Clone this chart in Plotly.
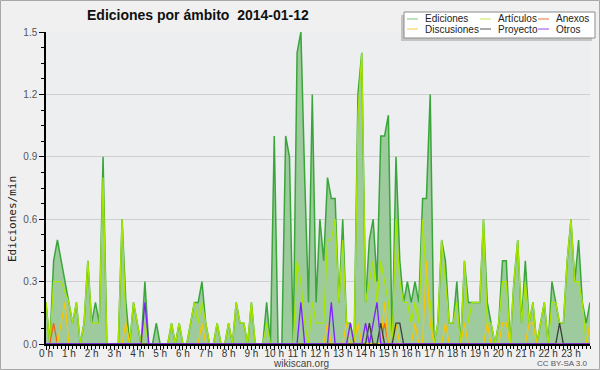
import plotly.graph_objects as go

# time of each 10-minute sample, in hours
times = [i / 6 for i in range(144)]

hour_ticks = list(range(24))
hour_labels = [f"{h} h" for h in hour_ticks]

ediciones = [
    0.2, 0, 0.4, 0.5, 0.4, 0.3, 0.2, 0.1, 0.2, 0, 0.1, 0.4,
    0.1, 0.2, 0.1, 0.9, 0, 0, 0, 0, 0.6, 0.2, 0, 0.2,
    0.1, 0, 0.3, 0, 0, 0.1, 0, 0, 0, 0.1, 0, 0.1,
    0, 0, 0.1, 0.2, 0.2, 0.3, 0.1, 0, 0, 0.1, 0, 0,
    0.1, 0, 0.2, 0.1, 0.1, 0, 0.2, 0, 0, 0, 0.2, 0,
    1.0, 0, 0, 1.0, 0.9, 0, 1.4, 1.5, 0.8, 0.2, 1.2, 0.2,
    0.6, 0.4, 0.8, 0.7, 0.7, 0.2, 0.6, 0.1, 0.1, 0, 1.2, 1.4,
    0.2, 0.5, 0.6, 0.3, 1.0, 1.0, 1.1, 0, 0.9, 0.4, 0.2, 0.3,
    0.2, 0.3, 0.2, 0.7, 0.7, 1.2, 0, 0.1, 0.5, 0.4, 0.1, 0.1,
    0.3, 0, 0.4, 0.2, 0.2, 0.2, 0.2, 0.6, 0.2, 0.1, 0, 0.1,
    0.4, 0.4, 0, 0.3, 0.5, 0.1, 0.4, 0.1, 0.2, 0, 0.1, 0.2,
    0, 0.3, 0.2, 0.1, 0.1, 0.4, 0.6, 0.3, 0.5, 0.2, 0.1, 0.2,
]

articulos = [
    0.2, 0, 0.3, 0.3, 0.3, 0.25, 0.2, 0.1, 0.2, 0, 0.1, 0.4,
    0.1, 0.1, 0.1, 0.8, 0, 0, 0, 0, 0.6, 0.1, 0, 0.2,
    0.1, 0, 0.1, 0, 0, 0, 0, 0, 0, 0.1, 0, 0.1,
    0, 0, 0.1, 0.2, 0.1, 0.2, 0.1, 0, 0, 0.1, 0, 0,
    0.1, 0, 0.2, 0.1, 0.1, 0, 0.2, 0, 0, 0, 0.1, 0,
    0, 0, 0, 0, 0, 0, 0.4, 0.3, 0.1, 0, 0.2, 0.1,
    0.1, 0.1, 0.5, 0.5, 0.6, 0.2, 0.5, 0.1, 0.1, 0, 1.1, 1.4,
    0.2, 0.3, 0.4, 0.2, 0.4, 0.3, 0.2, 0, 0.6, 0.3, 0.2, 0.2,
    0.1, 0.2, 0.1, 0.6, 0.3, 0.2, 0, 0.1, 0.5, 0.3, 0.1, 0.1,
    0.2, 0, 0.4, 0.1, 0.2, 0.2, 0.2, 0.6, 0.1, 0.1, 0, 0.1,
    0.3, 0.3, 0, 0.3, 0.5, 0.1, 0.3, 0.1, 0.2, 0, 0.1, 0.2,
    0, 0.2, 0.2, 0.1, 0.1, 0.4, 0.6, 0.3, 0.3, 0.2, 0, 0.1,
]

discusiones = [
    0, 0, 0, 0, 0.1, 0.2, 0, 0, 0, 0, 0, 0,
    0, 0, 0, 0, 0, 0, 0, 0, 0, 0.1, 0, 0,
    0, 0, 0, 0, 0, 0, 0, 0, 0, 0, 0, 0,
    0, 0, 0, 0, 0, 0.1, 0, 0, 0, 0, 0, 0,
    0, 0, 0, 0, 0, 0, 0, 0, 0, 0, 0, 0,
    0, 0, 0, 0, 0, 0, 0, 0, 0, 0, 0, 0,
    0, 0, 0.1, 0, 0, 0, 0, 0.1, 0, 0, 0.1, 0,
    0, 0, 0, 0, 0, 0.2, 0, 0, 0.1, 0, 0, 0,
    0, 0.1, 0, 0, 0.4, 0.1, 0, 0, 0, 0.1, 0, 0,
    0, 0, 0.1, 0, 0, 0, 0, 0, 0.1, 0, 0, 0,
    0.1, 0.1, 0, 0, 0, 0, 0, 0.1, 0.1, 0, 0, 0,
    0, 0, 0, 0, 0, 0, 0, 0, 0, 0, 0, 0.1,
]

anexos = [
    0, 0, 0.1, 0, 0, 0, 0, 0, 0, 0, 0, 0,
    0, 0, 0, 0, 0, 0, 0, 0, 0, 0, 0, 0,
    0, 0, 0, 0, 0, 0, 0, 0, 0, 0, 0, 0,
    0, 0, 0, 0, 0, 0, 0, 0, 0, 0, 0, 0,
    0, 0, 0, 0, 0, 0, 0, 0, 0, 0, 0, 0,
    0, 0, 0, 0, 0, 0, 0, 0, 0, 0, 0, 0,
    0, 0, 0, 0, 0, 0, 0, 0, 0, 0, 0, 0,
    0, 0, 0, 0, 0, 0.1, 0, 0, 0, 0, 0, 0,
    0, 0, 0, 0, 0, 0, 0, 0, 0, 0, 0, 0,
    0, 0, 0, 0, 0, 0, 0, 0, 0, 0, 0, 0,
    0, 0, 0, 0, 0, 0, 0, 0, 0, 0, 0, 0,
    0, 0, 0, 0, 0, 0, 0, 0, 0, 0, 0, 0,
]

proyecto = [
    0, 0, 0, 0, 0, 0, 0, 0, 0, 0, 0, 0,
    0, 0, 0, 0, 0, 0, 0, 0, 0, 0, 0, 0,
    0, 0, 0, 0, 0, 0, 0, 0, 0, 0, 0, 0,
    0, 0, 0, 0, 0, 0, 0, 0, 0, 0, 0, 0,
    0, 0, 0, 0, 0, 0, 0, 0, 0, 0, 0, 0,
    0, 0, 0, 0, 0, 0, 0, 0, 0, 0, 0, 0,
    0, 0, 0, 0, 0, 0, 0, 0, 0, 0, 0, 0,
    0, 0.1, 0, 0, 0.1, 0, 0, 0, 0.1, 0.1, 0, 0,
    0, 0, 0, 0, 0, 0, 0, 0, 0, 0, 0, 0,
    0, 0, 0, 0, 0, 0, 0, 0, 0, 0, 0, 0,
    0, 0, 0, 0, 0, 0, 0, 0, 0, 0, 0, 0,
    0, 0, 0, 0.1, 0, 0, 0, 0, 0, 0, 0, 0,
]

otros = [
    0, 0, 0, 0, 0, 0, 0, 0, 0, 0, 0, 0,
    0, 0, 0, 0, 0, 0, 0, 0, 0, 0, 0, 0,
    0, 0, 0.2, 0, 0, 0, 0, 0, 0, 0, 0, 0,
    0, 0, 0, 0, 0, 0, 0, 0, 0, 0, 0, 0,
    0, 0, 0, 0, 0, 0, 0, 0, 0, 0, 0, 0,
    0, 0, 0, 0, 0, 0, 0, 0.2, 0, 0, 0, 0,
    0, 0, 0, 0.2, 0, 0, 0, 0, 0.1, 0, 0, 0,
    0.1, 0, 0.1, 0.2, 0, 0, 0, 0, 0, 0, 0, 0,
    0, 0, 0, 0, 0, 0, 0, 0, 0, 0, 0, 0,
    0, 0, 0, 0, 0, 0, 0, 0, 0, 0, 0, 0,
    0, 0, 0, 0, 0, 0, 0, 0, 0, 0, 0, 0,
    0, 0, 0, 0, 0, 0, 0, 0, 0, 0, 0, 0,
]

line_colors = {"Ediciones": "#3aa63a", "Artículos": "#a8e600", "Anexos": "#f26419",
               "Discusiones": "#f7c600", "Proyecto": "#3c3c3c", "Otros": "#7f1fff"}
legend_colors = {"Ediciones": "#8fd08f", "Artículos": "#cdeb6e", "Anexos": "#ee8a5a",
                 "Discusiones": "#f8d462", "Proyecto": "#707070", "Otros": "#a566f0"}

FONT = "Liberation Sans"
W, H = 600, 370
L, R, T, B = 46, 10, 32, 26
PW, PH = W - L - R, H - T - B


def pxx(x):
    return (x - L) / PW


def pxy(y):
    return (H - B - y) / PH


fig = go.Figure()
fig.add_trace(go.Scatter(x=times, y=ediciones, mode="lines", name="Ediciones",
                         line=dict(color=line_colors["Ediciones"], width=1.5),
                         fill="tozeroy", fillcolor="#9ecb9e", hoverinfo="skip"))
for name, vals in [("Artículos", articulos), ("Anexos", anexos), ("Discusiones", discusiones),
                   ("Proyecto", proyecto), ("Otros", otros)]:
    fig.add_trace(go.Scatter(x=times, y=vals, mode="lines", name=name,
                             line=dict(color=line_colors[name], width=1.3), hoverinfo="skip"))

shapes = []
annotations = []
# outer frame
shapes.append(dict(type="rect", xref="paper", yref="paper", x0=pxx(0.5), x1=pxx(W - 0.5),
                   y0=pxy(H - 0.5), y1=pxy(0.5), line=dict(color="#a8a8a8", width=1), layer="below"))
# legend box with shadow
shapes.append(dict(type="rect", xref="paper", yref="paper", x0=pxx(401), x1=pxx(592),
                   y0=pxy(41), y1=pxy(15), fillcolor="#c4c4c4", line=dict(width=0)))
shapes.append(dict(type="rect", xref="paper", yref="paper", x0=pxx(404), x1=pxx(595),
                   y0=pxy(38), y1=pxy(12), fillcolor="#ffffff", line=dict(color="#8c8c8c", width=1)))
legend_layout = [("Ediciones", 407, 19), ("Artículos", 480, 19), ("Anexos", 538, 19),
                 ("Discusiones", 407, 29), ("Proyecto", 480, 29), ("Otros", 538, 29)]
for name, lx, ly in legend_layout:
    shapes.append(dict(type="line", xref="paper", yref="paper", x0=pxx(lx), x1=pxx(lx + 11),
                       y0=pxy(ly), y1=pxy(ly), line=dict(color=legend_colors[name], width=1.2)))
    annotations.append(dict(text=name, xref="paper", yref="paper", x=pxx(lx + 16), y=pxy(ly),
                            xanchor="left", yanchor="middle", showarrow=False,
                            font=dict(family=FONT, size=10, color="#222222")))

annotations.append(dict(text="Ediciones por ámbito\u00a0\u00a02014-01-12", xref="paper", yref="paper",
                        x=pxx(85), y=pxy(15), xanchor="left", yanchor="middle", showarrow=False,
                        font=dict(family=FONT, size=14, color="#111111", weight="bold")))
annotations.append(dict(text="Ediciones/min", xref="paper", yref="paper", x=pxx(12), y=pxy(219),
                        xanchor="center", yanchor="middle", textangle=-90, showarrow=False,
                        font=dict(family="DejaVu Sans Mono", size=11, color="#222222")))
annotations.append(dict(text="wikiscan.org", xref="paper", yref="paper", x=pxx(301), y=pxy(363),
                        xanchor="center", yanchor="middle", showarrow=False,
                        font=dict(family=FONT, size=10, color="#444444")))
annotations.append(dict(text="CC BY-SA 3.0", xref="paper", yref="paper", x=pxx(590), y=pxy(363),
                        xanchor="right", yanchor="middle", showarrow=False,
                        font=dict(family=FONT, size=8, color="#555555")))

fig.update_layout(
    width=W, height=H,
    margin=dict(l=L, r=R, t=T, b=B, pad=0, autoexpand=False),
    paper_bgcolor="#f0f0f0", plot_bgcolor="#eceef0",
    showlegend=False,
    shapes=shapes, annotations=annotations,
    font=dict(family=FONT, size=10, color="#333333"),
    xaxis=dict(range=[0, 143 / 6], tickmode="array", tickvals=hour_ticks, ticktext=hour_labels,
               ticks="outside", ticklen=4, tickcolor="#000000", tickwidth=1, automargin=False,
               ticklabelstandoff=-5,
               showline=True, linecolor="#000000", linewidth=1.5, showgrid=False, zeroline=False,
               tickfont=dict(family=FONT, size=10, color="#333333"),
               minor=dict(tickmode="linear", tick0=0, dtick=1 / 6, ticks="outside", ticklen=3,
                          tickcolor="#000000", showgrid=False)),
    yaxis=dict(range=[0, 1.5], tickmode="linear", tick0=0, dtick=0.3, tickformat=".1f",
               ticks="outside", ticklen=5, tickcolor="#000000", automargin=False,
               showline=True, linecolor="#000000", linewidth=1.5,
               showgrid=True, gridcolor="#cfcfcf", gridwidth=1, zeroline=False,
               tickfont=dict(family=FONT, size=10, color="#555555"),
               minor=dict(tickmode="linear", tick0=0, dtick=0.075, ticks="outside", ticklen=3,
                          tickcolor="#000000", showgrid=False)),
)

fig.write_html("out.html", config={"displayModeBar": False},
               post_script="document.body.style.margin='0';document.body.style.padding='0';")
